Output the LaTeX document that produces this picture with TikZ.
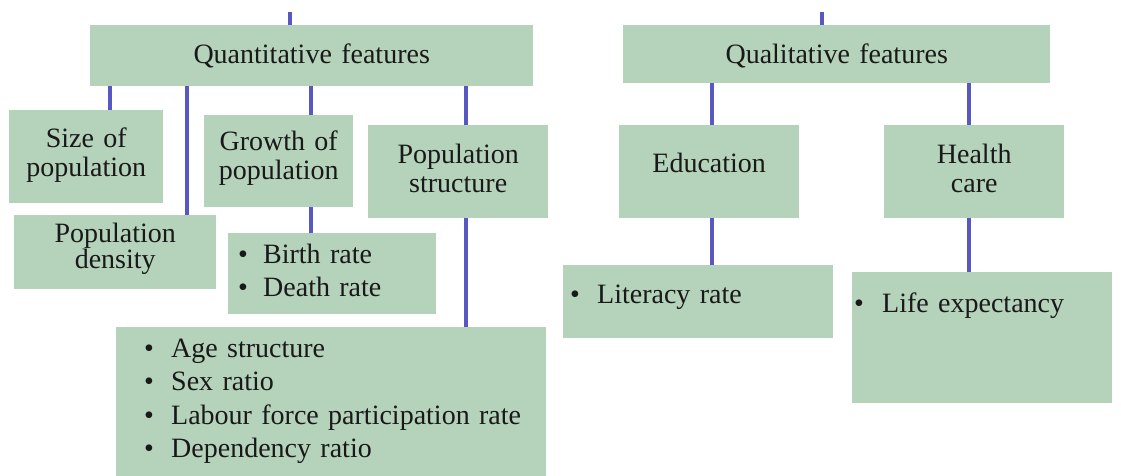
\documentclass[tikz,border=0pt]{standalone}
\usepackage{fontspec}
\setmainfont{Liberation Serif}
\definecolor{boxgreen}{RGB}{181,211,186}
\definecolor{lineblue}{RGB}{88,88,196}
\definecolor{txt}{RGB}{25,25,25}
\newcommand\itm[2][25pt]{\makebox[#1][l]{\textbullet}\mbox{#2}}
\begin{document}
\begin{tikzpicture}[x=1pt,y=-1pt,
  box/.style={fill=boxgreen, text=txt, inner xsep=0pt, inner ysep=0pt, anchor=north west, font=\fontsize{28}{29}\selectfont},
  cbox/.style={box, align=center},
  lbox/.style={box, align=left, font=\fontsize{28}{33.4}\selectfont},
  conn/.style={draw=lineblue, line width=3.4pt}]
\useasboundingbox (0,0) rectangle (1121,475);
% top-level boxes
\node[cbox, text width=443pt, text height=38pt, text depth=23pt] (quant) at (90,25) {Quantitative features};
\node[cbox, text width=427pt, text height=38pt, text depth=20pt] (qual) at (623,25) {Qualitative features};
% second level
\node[cbox, text width=154pt, text height=37pt, text depth=56pt] (size) at (9,110) {Size of\\population};
\node[cbox, text width=202pt, text height=27pt, text depth=47pt, font=\fontsize{28}{25}\selectfont] (dens) at (14,215) {Population\\density};
\node[cbox, text width=149pt, text height=35pt, text depth=57pt] (growth) at (204,115) {Growth of\\population};
\node[cbox, text width=180pt, text height=38pt, text depth=55pt] (struct) at (368,125) {Population\\structure};
\node[cbox, text width=180pt, text height=47pt, text depth=46pt] (edu) at (619,125) {Education};
\node[cbox, text width=180pt, text height=38pt, text depth=55pt] (health) at (884,125) {Health\\care};
% bullet boxes
\node[lbox, inner xsep=10pt, text width=188pt, text height=30pt, text depth=51pt] (birth) at (228,233) {\itm{Birth rate}\\\itm{Death rate}};
\node[lbox, inner xsep=28pt, text width=374pt, text height=30pt, text depth=121pt] (age) at (116,327) {\itm[27pt]{Age structure}\\\itm[27pt]{Sex ratio}\\\itm[27pt]{Labour force participation rate}\\\itm[27pt]{Dependency ratio}};
\node[lbox, inner xsep=7pt, text width=256pt, text height=38pt, text depth=35pt] (lit) at (563,265) {\itm[27pt]{Literacy rate}};
\node[lbox, inner xsep=2pt, text width=256pt, text height=40pt, text depth=91pt] (life) at (852,272) {\itm[28pt]{Life expectancy}};
% connector guides
\coordinate (t1) at (290,12);
\coordinate (t2) at (822,12);
\coordinate (xa) at (110,0);
\coordinate (xb) at (187,0);
\coordinate (xc) at (311,0);
\coordinate (xd) at (466,0);
\coordinate (xe) at (712,0);
\coordinate (xf) at (969,0);
% connectors
\draw[conn] (t1) -- (quant.north -| t1);
\draw[conn] (t2) -- (qual.north -| t2);
\draw[conn] (quant.south -| xa) -- (size.north -| xa);
\draw[conn] (quant.south -| xb) -- (dens.north -| xb);
\draw[conn] (quant.south -| xc) -- (growth.north -| xc);
\draw[conn] (quant.south -| xd) -- (struct.north -| xd);
\draw[conn] (growth.south -| xc) -- (birth.north -| xc);
\draw[conn] (struct.south -| xd) -- (age.north -| xd);
\draw[conn] (qual.south -| xe) -- (edu.north -| xe);
\draw[conn] (qual.south -| xf) -- (health.north -| xf);
\draw[conn] (edu.south -| xe) -- (lit.north -| xe);
\draw[conn] (health.south -| xf) -- (life.north -| xf);
\end{tikzpicture}
\end{document}
